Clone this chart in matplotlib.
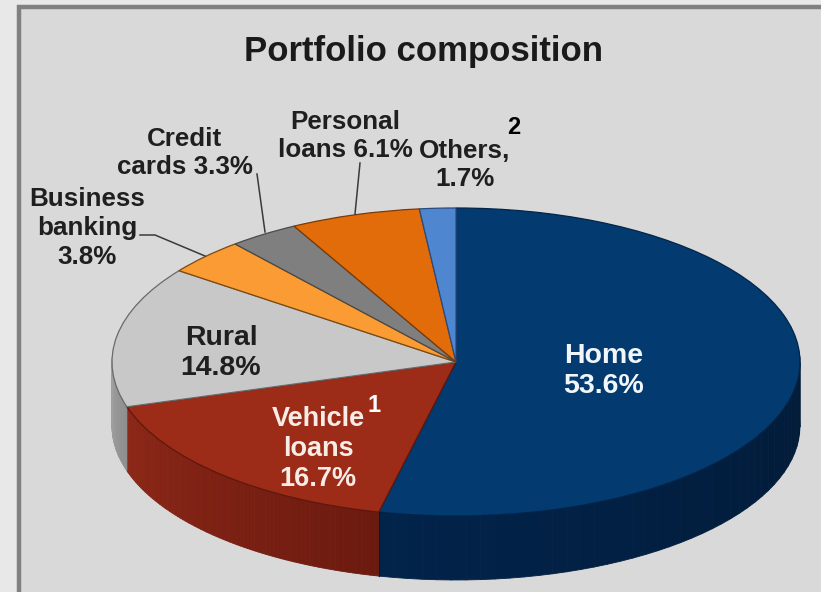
import numpy as np
import matplotlib
matplotlib.use('Agg')
from matplotlib import pyplot as plt
from matplotlib.collections import PolyCollection
from matplotlib.colors import to_rgb
from matplotlib.patches import Rectangle

plt.rcParams['font.family'] = ['Liberation Sans', 'DejaVu Sans']

categories = ['Home', 'Vehicle loans', 'Rural', 'Business banking', 'Credit cards', 'Personal loans', 'Others']
shares = [53.6, 16.7, 14.8, 3.8, 3.3, 6.1, 1.7]
top_colors = ['#033a70', '#9c2b18', '#c8c8c8', '#fb9b33', '#7f7f7f', '#e36c0a', '#4f86d0']
edge_colors = ['#022448', '#5e170c', '#6a6a6a', '#7a4a10', '#4a4a4a', '#7a3a05', '#2a4a80']
# side wall colours, at the start and at the end of each slice
side_start = ['#011428', '#6c1a0f', '#8f8f8f', '#000000', '#000000', '#000000', '#000000']
side_end = ['#02234a', '#8c2717', '#c4c4c4', '#000000', '#000000', '#000000', '#000000']

# ellipse of the pie in image pixels
cx, cy, rx, ry, depth = 456, 362, 344, 154, 64

fig = plt.figure(figsize=(8.21, 5.92), dpi=100, facecolor='#e8e8e8')

ax = fig.add_axes([0, 0, 1, 1], zorder=1)
over = fig.add_axes([0, 0, 1, 1], zorder=2)
over.set_xlim(0, 821)
over.set_ylim(592, 0)
over.axis('off')

# panel and frame
ax.add_patch(Rectangle((19, 7), 830, 620, transform=over.transData, facecolor='#d9d9d9',
                       edgecolor='#808080', linewidth=3.2, zorder=0))

# side wall, from the slice angles
h = depth / ry
edges = np.cumsum([0] + shares) / 100 * 2 * np.pi
polys, cols = [], []
for i in range(len(shares)):
    a0, a1 = edges[i], edges[i + 1]
    steps = np.linspace(a0, a1, 80)
    c0, c1 = np.array(to_rgb(side_start[i])), np.array(to_rgb(side_end[i]))
    for j in range(len(steps) - 1):
        t0, t1 = steps[j], steps[j + 1]
        if np.cos((t0 + t1) / 2) > 0.02:
            continue
        x0, x1 = np.sin(t0), np.sin(t1)
        y0, y1 = np.cos(t0), np.cos(t1)
        polys.append([(x0, y0), (x1, y1), (x1, y1 - h), (x0, y0 - h)])
        cols.append(c0 + (c1 - c0) * j / (len(steps) - 2))
ax.add_collection(PolyCollection(polys, facecolors=cols, edgecolors='face', linewidths=0.6, zorder=2))

# top face
wedges, _ = ax.pie(shares, colors=top_colors, startangle=90, counterclock=False,
                   wedgeprops={'linewidth': 0.9, 'zorder': 3}, frame=False)
for w, e in zip(wedges, edge_colors):
    w.set_edgecolor(e)
ax.set_aspect('auto')
ax.set_xlim((0 - cx) / rx, (821 - cx) / rx)
ax.set_ylim((cy - 592) / ry, cy / ry)
ax.axis('off')

# divider on the wall between home and vehicle loans
a = edges[1]
ax.plot([np.sin(a)] * 2, [np.cos(a), np.cos(a) - h], color='#2a0d10', lw=0.8, zorder=4)

# leader lines
leader = '#3a3a3a'
over.plot([257, 265], [174, 232], color=leader, lw=1.1)
over.plot([140, 155, 205], [235, 235, 256], color=leader, lw=1.1)
over.plot([360, 355], [163, 214], color=leader, lw=1.1)

over.text(423, 51, 'Portfolio composition', fontsize=25, fontweight='bold', color='#1a1a1a',
          ha='center', va='center')

dark = '#1f1f1f'
inner_size = 20.5
outer_size = 18.7
over.text(604, 371, 'Home\n53.6%', fontsize=inner_size, fontweight='bold', color='#f0f6fa',
          ha='center', va='center')
over.text(318, 449, 'Vehicle\nloans\n16.7%', fontsize=19.5, fontweight='bold', color='#f7ece6',
          ha='center', va='center')
over.text(221, 353, 'Rural\n14.8%', fontsize=inner_size, fontweight='bold', color=dark,
          ha='center', va='center')
over.text(87, 228, 'Business\nbanking\n3.8%', fontsize=outer_size, fontweight='bold', color=dark,
          ha='center', va='center', linespacing=1.25)
over.text(185, 153, 'Credit\ncards 3.3%', fontsize=outer_size, fontweight='bold', color=dark,
          ha='center', va='center', linespacing=1.25)
over.text(345, 136, 'Personal\nloans 6.1%', fontsize=outer_size, fontweight='bold', color=dark,
          ha='center', va='center', linespacing=1.25)
over.text(465, 165, 'Others,\n1.7%', fontsize=outer_size, fontweight='bold', color=dark,
          ha='center', va='center', linespacing=1.25)

# footnote marks
over.text(374, 406, '1', fontsize=17, fontweight='bold', color='white', ha='center', va='center')
over.text(514, 128, '2', fontsize=17, fontweight='bold', color='black', ha='center', va='center')

fig.savefig('out.png', dpi=100, facecolor=fig.get_facecolor())
